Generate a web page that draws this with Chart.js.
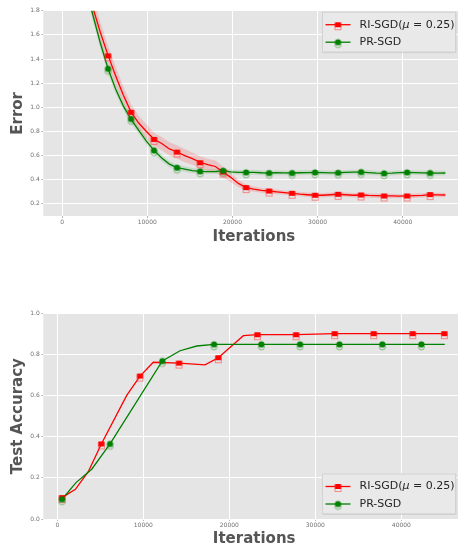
<!DOCTYPE html>
<html>
<head>
<meta charset="utf-8">
<script src="https://cdn.jsdelivr.net/npm/chart.js@4"></script>
<style>
html, body { margin: 0; padding: 0; background: #fff; overflow: hidden; width: 458px; height: 549px; }
canvas { position: absolute; left: 0; }
#errChart { top: 0; }
#accChart { top: 290px; }
</style>
</head>
<body>
<canvas id="errChart" width="470" height="250"></canvas>
<canvas id="accChart" width="470" height="259"></canvas>
<script>
// ---- data: training error ----
const errIters = [900, 1800, 2700, 3600, 4500, 5400, 6300, 7200, 8100, 9000,
    9900, 10800, 11700, 12600, 13500, 14400, 15300, 16200, 17100, 18000,
    18900, 19800, 20700, 21600, 22500, 23400, 24300, 25200, 26100, 27000,
    27900, 28800, 29700, 30600, 31500, 32400, 33300, 34200, 35100, 36000,
    36900, 37800, 38700, 39600, 40500, 41400, 42300, 43200, 44100, 45000];
const errRed = [2.60, 2.32, 2.06, 1.83, 1.62, 1.43, 1.26, 1.10, 0.96, 0.87,
    0.80, 0.735, 0.70, 0.655, 0.63, 0.60, 0.575, 0.545, 0.525, 0.51,
    0.465, 0.42, 0.37, 0.335, 0.322, 0.312, 0.307, 0.30, 0.294, 0.288,
    0.281, 0.276, 0.272, 0.272, 0.276, 0.280, 0.276, 0.272, 0.274, 0.270,
    0.268, 0.266, 0.266, 0.265, 0.266, 0.268, 0.271, 0.277, 0.275, 0.274];
const errRedStd = [0.09, 0.09, 0.09, 0.09, 0.085, 0.08, 0.075, 0.07, 0.065, 0.06,
    0.06, 0.055, 0.055, 0.055, 0.055, 0.055, 0.05, 0.05, 0.05, 0.05,
    0.045, 0.04, 0.03, 0.025, 0.022, 0.02, 0.02, 0.02, 0.018, 0.018,
    0.018, 0.018, 0.018, 0.018, 0.018, 0.018, 0.018, 0.018, 0.018, 0.018,
    0.018, 0.018, 0.018, 0.018, 0.018, 0.018, 0.018, 0.018, 0.018, 0.018];
const errGreen = [2.55, 2.25, 2.02, 1.77, 1.53, 1.32, 1.15, 1.01, 0.90, 0.81,
    0.72, 0.643, 0.58, 0.53, 0.50, 0.488, 0.476, 0.47, 0.467, 0.468,
    0.475, 0.466, 0.462, 0.461, 0.462, 0.458, 0.456, 0.458, 0.457, 0.456,
    0.458, 0.460, 0.461, 0.459, 0.457, 0.458, 0.461, 0.463, 0.464, 0.460,
    0.455, 0.453, 0.455, 0.459, 0.461, 0.459, 0.457, 0.456, 0.455, 0.456];
const errGreenStd = [0.05, 0.05, 0.05, 0.05, 0.045, 0.04, 0.04, 0.035, 0.035, 0.03,
    0.03, 0.03, 0.028, 0.026, 0.025, 0.024, 0.022, 0.022, 0.02, 0.02,
    0.02, 0.02, 0.02, 0.02, 0.02, 0.02, 0.02, 0.02, 0.02, 0.02,
    0.02, 0.02, 0.02, 0.02, 0.02, 0.02, 0.02, 0.02, 0.02, 0.02,
    0.02, 0.02, 0.02, 0.02, 0.02, 0.02, 0.02, 0.02, 0.02, 0.02];
const errMarkIters = [5400, 8100, 10800, 13500, 16200, 18900, 21600, 24300,
    27000, 29700, 32400, 35100, 37800, 40500, 43200];
const errRedMarks = [1.426, 0.959, 0.734, 0.629, 0.541, 0.464, 0.335, 0.307,
    0.288, 0.272, 0.280, 0.274, 0.266, 0.266, 0.277];
const errGreenMarks = [1.319, 0.904, 0.643, 0.500, 0.470, 0.475, 0.461, 0.456,
    0.456, 0.461, 0.458, 0.464, 0.453, 0.461, 0.456];

// ---- data: test accuracy ----
const accRedIters = [550, 2100, 3600, 5120, 8070, 9620, 11160, 14150, 17170,
    18720, 21630, 23260, 27760, 32250, 36790, 41320, 45000];
const accRed = [0.104, 0.144, 0.23, 0.365, 0.601, 0.695, 0.762, 0.758, 0.749,
    0.784, 0.891, 0.896, 0.896, 0.901, 0.901, 0.901, 0.901];
const accRedMarkIters = [550, 5120, 9620, 14150, 18720, 23260, 27760, 32250, 36790, 41320, 45000];
const accRedMarks = [0.104, 0.365, 0.695, 0.758, 0.784, 0.896, 0.896, 0.901, 0.901, 0.901, 0.901];
const accGreenIters = [550, 2170, 4000, 6130, 12210, 14270, 16210, 18220, 23720,
    28220, 32800, 37790, 42330, 45050];
const accGreen = [0.096, 0.177, 0.242, 0.365, 0.768, 0.818, 0.841, 0.849, 0.849,
    0.849, 0.849, 0.849, 0.849, 0.849];
const accGreenMarkIters = [550, 6130, 12210, 18220, 23720, 28220, 32800, 37790, 42330];
const accGreenMarks = [0.096, 0.365, 0.768, 0.849, 0.849, 0.849, 0.849, 0.849, 0.849];

// ---- ticks / labels ----
const iterTicks = [0, 10000, 20000, 30000, 40000];
const errTicks = [0.2, 0.4, 0.6, 0.8, 1.0, 1.2, 1.4, 1.6, 1.8];
const accTicks = [0.0, 0.2, 0.4, 0.6, 0.8, 1.0];
const seriesNames = ['RI-SGD', 'PR-SGD'];
const muLabel = ['RI-SGD(', 'μ', ' = 0.25)'];

const RED = '#ff0000', GREEN = '#008000';
const FONT = "'DejaVu Sans', sans-serif";

Chart.defaults.font.family = FONT;
Chart.defaults.devicePixelRatio = 1;

const pts = (xs, ys) => xs.map((x, i) => ({ x: x, y: ys[i] }));

// marker: solid shape with a lighter hollow copy slightly below it
function makeMarker(color, light, square) {
    const c = document.createElement('canvas');
    c.width = 11; c.height = 15;
    const g = c.getContext('2d');
    g.lineWidth = 1;
    g.strokeStyle = light;
    if (square) {
        g.strokeRect(2.5, 6.5, 6, 6);
        g.fillStyle = color;
        g.fillRect(2.5, 5, 6, 5);
    } else {
        g.beginPath(); g.arc(5.5, 10, 3, 0, Math.PI * 2); g.stroke();
        g.fillStyle = color;
        g.beginPath(); g.arc(5.5, 7.5, 3.1, 0, Math.PI * 2); g.fill();
    }
    return c;
}
const redMark = makeMarker(RED, 'rgba(255,60,60,0.55)', true);
const greenMark = makeMarker(GREEN, 'rgba(0,128,0,0.45)', false);

const plotBg = {
    id: 'plotBg',
    beforeDraw(chart) {
        const { ctx, chartArea: a } = chart;
        ctx.save();
        ctx.fillStyle = '#e5e5e5';
        ctx.fillRect(a.left, a.top, a.right - a.left, a.bottom - a.top);
        ctx.restore();
    }
};

const boxLegend = {
    id: 'boxLegend',
    afterDraw(chart, args, opts) {
        const { ctx, chartArea: a } = chart;
        const x0 = 322, w = 133, h = 40;
        const y0 = opts.where === 'top' ? a.top + 1 : a.bottom - 5.5 - h;
        ctx.save();
        ctx.fillStyle = 'rgba(0,0,0,0.08)';
        ctx.fillRect(x0 + 1.5, y0 + 1.5, w, h);
        ctx.fillStyle = '#e9e9e9';
        ctx.fillRect(x0, y0, w, h);
        ctx.strokeStyle = '#d2d2d2';
        ctx.lineWidth = 1;
        ctx.strokeRect(x0 + 0.5, y0 + 0.5, w, h);
        const rows = [
            { color: RED, mark: redMark, y: y0 + 13 },
            { color: GREEN, mark: greenMark, y: y0 + 30.5 }
        ];
        rows.forEach((r, i) => {
            ctx.strokeStyle = r.color;
            ctx.lineWidth = 1.3;
            ctx.beginPath();
            ctx.moveTo(x0 + 3.5, r.y);
            ctx.lineTo(x0 + 28.5, r.y);
            ctx.stroke();
            ctx.drawImage(r.mark, x0 + 16 - r.mark.width / 2, r.y - r.mark.height / 2);
            ctx.fillStyle = '#262626';
            ctx.textBaseline = 'middle';
            let tx = x0 + 37.5;
            if (i === 0) {
                ctx.font = '11px ' + FONT;
                ctx.fillText(muLabel[0], tx, r.y);
                tx += ctx.measureText(muLabel[0]).width;
                ctx.font = 'italic 11px ' + FONT;
                ctx.fillText(muLabel[1], tx, r.y);
                tx += ctx.measureText(muLabel[1]).width;
                ctx.font = '11px ' + FONT;
                ctx.fillText(muLabel[2], tx, r.y);
            } else {
                ctx.font = '11px ' + FONT;
                ctx.fillText(seriesNames[1], tx, r.y);
            }
        });
        ctx.restore();
    }
};

function makeOptions(o) {
    return {
        responsive: false,
        animation: false,
        devicePixelRatio: 1,
        layout: { padding: o.padding },
        plugins: {
            legend: { display: false },
            tooltip: { enabled: false },
            boxLegend: { where: o.legendAt }
        },
        scales: {
            x: {
                type: 'linear',
                min: o.xMin, max: o.xMax,
                afterBuildTicks: s => { s.ticks = iterTicks.map(v => ({ value: v })); },
                afterFit: s => { s.height = o.xHeight; },
                grid: { color: '#ffffff', lineWidth: 1, drawTicks: true, tickLength: 2, tickColor: '#b5b5b5' },
                border: { display: false },
                ticks: { color: '#707070', font: { size: 6 }, padding: 1, maxRotation: 0, callback: v => String(v) },
                title: { display: true, text: 'Iterations', color: '#555555', font: { size: 15, weight: 'bold' }, padding: { top: 0, bottom: 0 } }
            },
            y: {
                min: o.yMin, max: o.yMax,
                afterBuildTicks: s => { s.ticks = o.yTicks.map(v => ({ value: v })); },
                afterFit: s => { s.width = 43.3; },
                grid: { color: '#ffffff', lineWidth: 1, drawTicks: true, tickLength: 2, tickColor: '#b5b5b5' },
                border: { display: false },
                ticks: { color: '#707070', font: { size: 6 }, padding: 1.5, callback: v => v.toFixed(1) },
                title: { display: true, text: o.yTitle, color: '#555555', font: { size: 15, weight: 'bold' }, padding: { top: 9, bottom: 0 } }
            }
        }
    };
}

const lineDs = (data, color, order) => ({
    data: data, borderColor: color, borderWidth: 1.3, pointRadius: 0,
    tension: 0, fill: false, order: order
});
const markDs = (data, img, order) => ({
    data: data, showLine: false, pointStyle: img, pointRadius: 4,
    borderWidth: 0, order: order
});

// ---- Error chart ----
new Chart(document.getElementById('errChart'), {
    type: 'line',
    data: {
        datasets: [
            { data: pts(errIters, errRed.map((v, i) => v + errRedStd[i])), borderWidth: 0, pointRadius: 0, fill: false, order: 20 },
            { data: pts(errIters, errRed.map((v, i) => v - errRedStd[i])), borderWidth: 0, pointRadius: 0, fill: '-1', backgroundColor: 'rgba(255,0,0,0.15)', order: 20 },
            { data: pts(errIters, errGreen.map((v, i) => v + errGreenStd[i])), borderWidth: 0, pointRadius: 0, fill: false, order: 19 },
            { data: pts(errIters, errGreen.map((v, i) => v - errGreenStd[i])), borderWidth: 0, pointRadius: 0, fill: '-1', backgroundColor: 'rgba(0,128,0,0.12)', order: 19 },
            lineDs(pts(errIters, errRed), RED, 6),
            lineDs(pts(errIters, errGreen), GREEN, 5),
            markDs(pts(errMarkIters, errRedMarks), redMark, 4),
            markDs(pts(errMarkIters, errGreenMarks), greenMark, 3)
        ]
    },
    options: makeOptions({
        padding: { left: 0, top: 10.7, right: 5.4, bottom: 3.7 },
        xMin: -2200, xMax: 47250, xHeight: 30.3,
        yMin: 0.1, yMax: 1.8, yTicks: errTicks, yTitle: 'Error',
        legendAt: 'top'
    }),
    plugins: [plotBg, boxLegend]
});

// ---- Accuracy chart ----
new Chart(document.getElementById('accChart'), {
    type: 'line',
    data: {
        datasets: [
            lineDs(pts(accRedIters, accRed), RED, 6),
            lineDs(pts(accGreenIters, accGreen), GREEN, 5),
            markDs(pts(accRedMarkIters, accRedMarks), redMark, 4),
            markDs(pts(accGreenMarkIters, accGreenMarks), greenMark, 3)
        ]
    },
    options: makeOptions({
        padding: { left: 0, top: 23.3, right: 5, bottom: 1 },
        xMin: -1630, xMax: 47400, xHeight: 29,
        yMin: 0, yMax: 1.0, yTicks: accTicks, yTitle: 'Test Accuracy',
        legendAt: 'bottom'
    }),
    plugins: [plotBg, boxLegend]
});
</script>
</body>
</html>
